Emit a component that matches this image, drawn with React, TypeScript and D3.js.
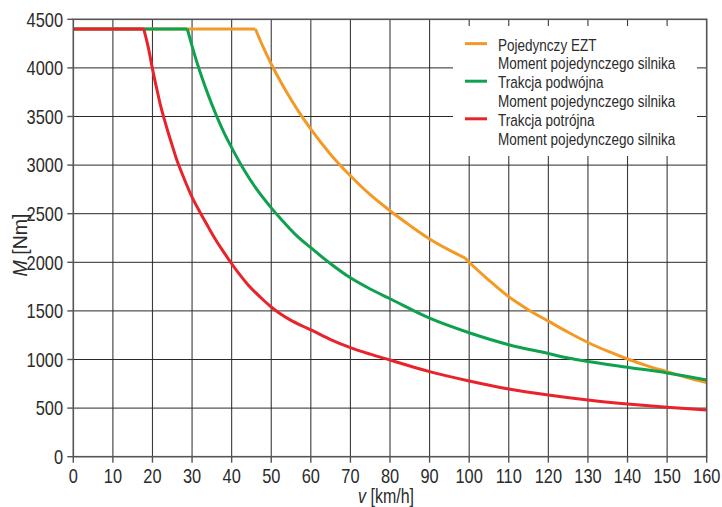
import React from 'react';
import * as d3 from 'd3';

const WIDTH = 722;
const HEIGHT = 507;
const PLOT = { left: 73.3, right: 706.7, top: 19.3, bottom: 456.7 };

const speedTicks = [0, 10, 20, 30, 40, 50, 60, 70, 80, 90, 100, 110, 120, 130, 140, 150, 160];
const torqueTicks = [0, 500, 1000, 1500, 2000, 2500, 3000, 3500, 4000, 4500];

const seriesNames = ['Pojedynczy EZT', 'Trakcja podwójna', 'Trakcja potrójna'];
const legendSubtitle = 'Moment pojedynczego silnika';
const seriesColors = ['#F39A26', '#0EA14E', '#E8232B'];

// Single unit (EZT)
const singleSpeed = [0, 46, 48, 50, 52, 55, 58, 60, 65, 70, 75, 80, 85, 90, 95, 98.9, 100, 105, 110, 115, 120, 125, 130, 135, 140, 145, 150, 155, 160];
const singleTorque = [4400, 4400, 4210, 4040, 3885, 3675, 3485, 3370, 3110, 2890, 2695, 2530, 2380, 2240, 2125, 2045, 2000, 1815, 1645, 1510, 1395, 1280, 1175, 1085, 1005, 935, 875, 815, 762];
const singleBreaks = [46, 98.9];

// Double traction
const doubleSpeed = [0, 28.8, 30, 32, 34, 36, 38, 40, 43, 46, 50, 53, 56, 60, 65, 70, 75, 80, 90, 100, 110, 120, 125, 130, 140, 150, 160];
const doubleTorque = [4400, 4400, 4225, 3960, 3730, 3525, 3340, 3180, 2960, 2770, 2560, 2420, 2290, 2150, 1985, 1840, 1725, 1625, 1425, 1275, 1152, 1062, 1015, 980, 920, 862, 790];
const doubleBreaks = [28.8];

// Triple traction
const tripleSpeed = [0, 17.8, 19, 20, 21, 22, 23, 24, 25, 26, 28, 30, 32, 34, 36, 38, 40, 42, 44, 46, 48, 50, 52, 55, 58, 60, 65, 70, 75, 80, 90, 100, 110, 120, 130, 140, 150, 160];
const tripleTorque = [4400, 4400, 4200, 3990, 3800, 3620, 3470, 3330, 3200, 3070, 2860, 2670, 2515, 2370, 2230, 2105, 1985, 1875, 1775, 1690, 1612, 1540, 1478, 1402, 1342, 1305, 1205, 1122, 1055, 995, 875, 779, 697, 635, 583, 542, 508, 480];
const tripleBreaks = [17.8];

const FONT = "'Liberation Sans', Arial, sans-serif";
const SQUEEZE = 0.82;
const INK = '#2b2b2b';

const x = d3.scaleLinear().domain([0, 160]).range([PLOT.left, PLOT.right]);
const y = d3.scaleLinear().domain([0, 4500]).range([PLOT.bottom, PLOT.top]);

type Pt = [number, number];

function buildPath(speed: number[], torque: number[], breaks: number[]): string {
  const pts: Pt[] = speed.map((v, i) => [v, torque[i]]);
  const segments: Pt[][] = [];
  let current: Pt[] = [];
  pts.forEach((p) => {
    current.push(p);
    if (breaks.includes(p[0])) {
      segments.push(current);
      current = [p];
    }
  });
  if (current.length > 1) segments.push(current);
  const gen = d3
    .line<Pt>()
    .x((d) => x(d[0]))
    .y((d) => y(d[1]))
    .curve(d3.curveMonotoneX);
  return segments.map((s) => gen(s) || '').join('');
}

const series = [
  { speed: singleSpeed, torque: singleTorque, breaks: singleBreaks },
  { speed: doubleSpeed, torque: doubleTorque, breaks: doubleBreaks },
  { speed: tripleSpeed, torque: tripleTorque, breaks: tripleBreaks },
];

// Condensed text: horizontally squeezed around its anchor point
function CText(props: {
  x: number;
  y: number;
  size: number;
  anchor?: 'start' | 'middle' | 'end';
  rotate?: number;
  squeeze?: number;
  dy?: string;
  children: React.ReactNode;
}) {
  const { x: tx, y: ty, size, anchor = 'start', rotate = 0, squeeze = SQUEEZE, dy, children } = props;
  return (
    <text
      transform={`translate(${tx},${ty}) rotate(${rotate}) scale(${squeeze},1)`}
      textAnchor={anchor}
      fontSize={size}
      dy={dy}
      fill={INK}
    >
      {children}
    </text>
  );
}

export default function App() {
  const legend = { x: 453, y: 26, w: 244, h: 130 };
  const lineHeight = 18.8;
  return (
    <svg
      width={WIDTH}
      height={HEIGHT}
      style={{ position: 'absolute', left: 0, top: 0, background: '#fff' }}
      fontFamily={FONT}
    >
      <rect x={0} y={0} width={WIDTH} height={HEIGHT} fill="#fff" />
      {/* grid */}
      <g>
        {speedTicks.slice(1, -1).map((v) => (
          <line key={'gx' + v} x1={x(v)} x2={x(v)} y1={PLOT.top} y2={PLOT.bottom} stroke="#3a3a3a" strokeWidth={1.1} />
        ))}
        {torqueTicks.slice(1, -1).map((m) => (
          <line key={'gy' + m} x1={PLOT.left} x2={PLOT.right} y1={y(m)} y2={y(m)} stroke="#2a2a2a" strokeWidth={1} />
        ))}
      </g>
      {/* legend */}
      <g>
        <rect x={legend.x} y={legend.y} width={legend.w} height={legend.h} fill="#fff" />
        {seriesNames.map((name, i) => {
          const base = 50.6 + i * 2 * lineHeight;
          return (
            <g key={name}>
              <line x1={465} x2={487} y1={base - 7} y2={base - 7} stroke={seriesColors[i]} strokeWidth={3} />
              <CText x={498} y={base} size={16.5}>{name}</CText>
              <CText x={498} y={base + lineHeight} size={16.5}>{legendSubtitle}</CText>
            </g>
          );
        })}
      </g>
      {/* curves */}
      <g fill="none" strokeWidth={3} strokeLinejoin="round">
        {series.map((s, i) => (
          <path key={i} d={buildPath(s.speed, s.torque, s.breaks)} stroke={seriesColors[i]} />
        ))}
      </g>
      {/* frame */}
      <rect
        x={PLOT.left}
        y={PLOT.top}
        width={PLOT.right - PLOT.left}
        height={PLOT.bottom - PLOT.top}
        fill="none"
        stroke="#555"
        strokeWidth={1.6}
      />
      {/* y axis */}
      <g>
        {torqueTicks.map((m) => (
          <g key={'ty' + m}>
            <line x1={PLOT.left - 6} x2={PLOT.left} y1={y(m)} y2={y(m)} stroke="#555" strokeWidth={1.4} />
            <CText x={63} y={y(m)} dy="0.36em" anchor="end" size={20}>{m}</CText>
          </g>
        ))}
        <CText x={27} y={245} rotate={-90} anchor="middle" size={19.5} squeeze={1}>
          <tspan fontStyle="italic">M</tspan>
          <tspan> [Nm]</tspan>
        </CText>
      </g>
      {/* x axis */}
      <g>
        {speedTicks.map((v) => (
          <g key={'tx' + v}>
            <line x1={x(v)} x2={x(v)} y1={PLOT.bottom} y2={PLOT.bottom + 6} stroke="#555" strokeWidth={1.4} />
            <CText x={x(v)} y={483} anchor="middle" size={20}>{v}</CText>
          </g>
        ))}
        <CText x={386} y={503} anchor="middle" size={19.5}>
          <tspan fontStyle="italic">v</tspan>
          <tspan> [km/h]</tspan>
        </CText>
      </g>
    </svg>
  );
}
